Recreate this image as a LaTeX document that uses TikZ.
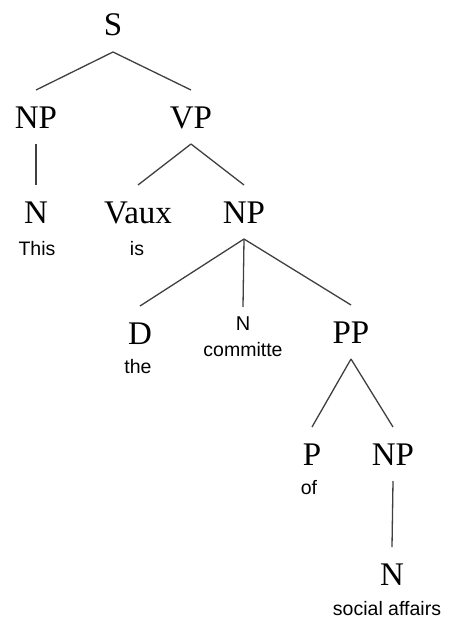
\documentclass[tikz,border=0pt]{standalone}
\usepackage{fontspec}
\setmainfont{Liberation Serif}
\newfontfamily\wordfont{Liberation Sans}
\begin{document}
\begin{tikzpicture}[x=1pt,y=-1pt,
  cat/.style={font=\fontsize{33}{33}\selectfont, inner sep=0pt, outer xsep=0pt, outer ysep=16pt,
    text height=22pt, text depth=0pt, anchor=base},
  scat/.style={font=\wordfont\fontsize{20}{20}\selectfont, inner sep=0pt, outer xsep=0pt, outer ysep=8pt,
    text height=15pt, text depth=0pt, anchor=base},
  word/.style={font=\wordfont\fontsize{19.5}{19.5}\selectfont, inner sep=0pt, anchor=base},
  branch/.style={line width=1.3pt, draw=black!75}]
\fill[white] (0,0) rectangle (451,618);
\useasboundingbox (0,0) rectangle (451,618);
\node[cat] (S) at (113,36) {S};
\node[cat] (NPa) at (36,128) {NP};
\node[cat] (VP) at (191,128) {VP};
\node[cat] (Na) at (36,223) {N};
\node[word] (this) at (37,255) {This};
\node[cat] (Vaux) at (138,223) {Vaux};
\node[word] (is) at (137,255) {is};
\node[cat] (NPb) at (244,223) {NP};
\node[cat] (D) at (140,344) {D};
\node[word] (the) at (138,373) {the};
\node[scat] (Nb) at (243,330) {N};
\node[word] (committe) at (243,356) {committe};
\node[cat] (PP) at (351,343) {PP};
\node[cat] (P) at (312,465) {P};
\node[word] (of) at (309,494) {of};
\node[cat] (NPc) at (393,465) {NP};
\node[cat] (Nc) at (392,585) {N};
\node[word] (sa) at (387,615) {social affairs};
\draw[branch] (S.south) -- (NPa.north);
\draw[branch] (S.south) -- (VP.north);
\draw[branch] (NPa.south) -- (Na.north);
\draw[branch] (VP.south) -- (Vaux.north);
\draw[branch] (VP.south) -- (NPb.north);
\draw[branch] (NPb.south) -- (D.north);
\draw[branch] (NPb.south) -- (Nb.north);
\draw[branch] (NPb.south) -- (PP.north);
\draw[branch] (PP.south) -- (P.north);
\draw[branch] (PP.south) -- (NPc.north);
\draw[branch] (NPc.south) -- (Nc.north);
\end{tikzpicture}
\end{document}
